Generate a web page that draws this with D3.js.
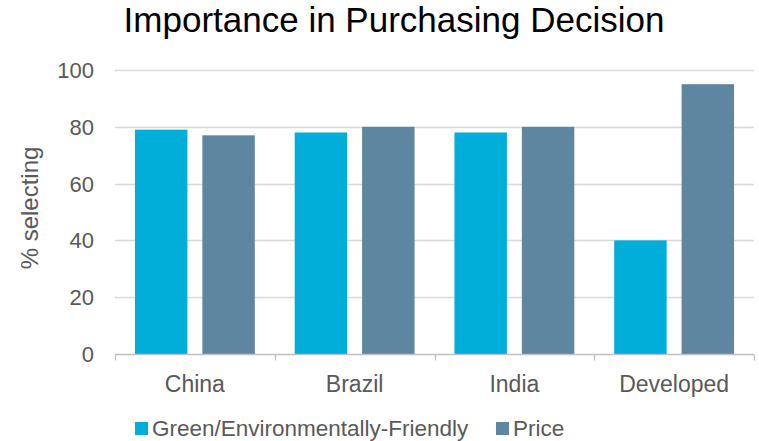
<!DOCTYPE html>
<html><head><meta charset="utf-8">
<script src="https://cdn.jsdelivr.net/npm/d3@7"></script>
<style>body{margin:0;background:#fff;} svg{display:block;font-family:"Liberation Sans",Arial,sans-serif;}</style>
</head><body>
<script>
const categories = ["China", "Brazil", "India", "Developed"];
const seriesNames = ["Green/Environmentally-Friendly", "Price"];
const greenValues = [79, 78, 78, 40];
const priceValues = [77, 80, 80, 95];
const yTicks = [0, 20, 40, 60, 80, 100];
const colors = ["#00AED9", "#5F86A0"];

const W = 759, H = 441;
const m = {left: 115, right: 5, top: 70, bottom: 87};
const svg = d3.select("body").append("svg").attr("width", W).attr("height", H);

const x = d3.scaleBand().domain(categories).range([m.left, W - m.right]).paddingInner(0).paddingOuter(0);
const x1 = d3.scaleBand().domain(seriesNames).range([0, x.bandwidth()]).paddingInner(0.222).paddingOuter(0.296);
const y = d3.scaleLinear().domain([0, 100]).range([H - m.bottom, m.top]);

// gridlines
svg.append("g").selectAll("line").data(yTicks.filter(d => d > 0)).join("line")
  .attr("x1", m.left).attr("x2", W - m.right)
  .attr("y1", d => Math.round(y(d)) + 0.5).attr("y2", d => Math.round(y(d)) + 0.5)
  .attr("stroke", "#D9D9D9").attr("stroke-width", 1.3);

// y labels
svg.append("g").selectAll("text").data(yTicks).join("text")
  .attr("x", 94).attr("y", d => y(d)).attr("dy", "0.36em")
  .attr("text-anchor", "end").attr("fill", "#595959").attr("font-size", 22)
  .text(d => d);

// bars
const data = categories.map((c, i) => ({c, vals: [greenValues[i], priceValues[i]]}));
const g = svg.append("g").selectAll("g").data(data).join("g")
  .attr("transform", d => `translate(${x(d.c)},0)`);
g.selectAll("rect").data(d => d.vals.map((v, j) => ({s: seriesNames[j], v, j}))).join("rect")
  .attr("x", d => x1(d.s)).attr("width", x1.bandwidth())
  .attr("y", d => y(d.v)).attr("height", d => y(0) - y(d.v))
  .attr("fill", d => colors[d.j]);

// x axis
const base = Math.round(y(0)) + 0.5;
svg.append("line").attr("x1", m.left).attr("x2", W - m.right).attr("y1", base).attr("y2", base)
  .attr("stroke", "#BFBFBF").attr("stroke-width", 1.3);
const tickXs = categories.map(c => x(c)).concat([W - m.right]);
svg.append("g").selectAll("line").data(tickXs).join("line")
  .attr("x1", d => Math.round(d) + 0.5).attr("x2", d => Math.round(d) + 0.5)
  .attr("y1", base).attr("y2", base + 6).attr("stroke", "#BFBFBF").attr("stroke-width", 1.3);
svg.append("g").selectAll("text").data(categories).join("text")
  .attr("x", d => x(d) + x.bandwidth() / 2).attr("y", 392)
  .attr("text-anchor", "middle").attr("fill", "#595959").attr("font-size", 23)
  .text(d => d);

// y title
svg.append("text").attr("transform", "translate(38,208) rotate(-90)")
  .attr("text-anchor", "middle").attr("fill", "#595959").attr("font-size", 24)
  .text("% selecting");

// title
svg.append("text").attr("x", 394).attr("y", 32).attr("text-anchor", "middle")
  .attr("fill", "#000").attr("font-size", 35).text("Importance in Purchasing Decision");

// legend
const legX = [135, 496];
const lg = svg.append("g").selectAll("g").data(seriesNames).join("g")
  .attr("transform", (d, i) => `translate(${legX[i]},428)`);
lg.append("rect").attr("x", 0).attr("y", -6).attr("width", 13).attr("height", 13)
  .attr("fill", (d, i) => colors[i]);
lg.append("text").attr("x", 17).attr("y", 8)
  .attr("fill", "#595959").attr("font-size", 22.5).text(d => d);
</script>
</body></html>
